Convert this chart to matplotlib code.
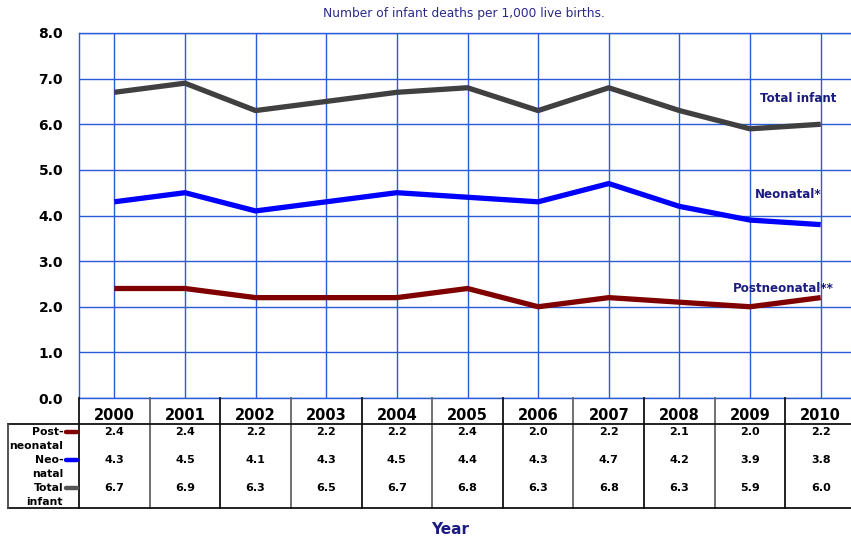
import numpy as np
import matplotlib.pyplot as plt
import matplotlib.transforms as mtransforms
from matplotlib.lines import Line2D

# data
years = [2000, 2001, 2002, 2003, 2004, 2005, 2006, 2007, 2008, 2009, 2010]
postneonatal = [2.4, 2.4, 2.2, 2.2, 2.2, 2.4, 2.0, 2.2, 2.1, 2.0, 2.2]
neonatal = [4.3, 4.5, 4.1, 4.3, 4.5, 4.4, 4.3, 4.7, 4.2, 3.9, 3.8]
total_infant = [6.7, 6.9, 6.3, 6.5, 6.7, 6.8, 6.3, 6.8, 6.3, 5.9, 6.0]
yticks = [0, 1, 2, 3, 4, 5, 6, 7, 8]

W, H = 851, 540
NAVY = '#1c1c80'
GRID = '#2a5bd7'

def fx(x):
    return x / W

def fy(y):
    return 1 - y / H

fig = plt.figure(figsize=(W / 100, H / 100), dpi=100)
ax = fig.add_axes([fx(79), fy(398), fx(856) - fx(79), fy(33) - fy(398)])
ax.set_xlim(years[0] - 0.5, years[-1] + 0.5)
ax.set_ylim(0, 8)

ax.plot(years, total_infant, color='#404040', lw=3.8, solid_capstyle='butt', zorder=3)
ax.plot(years, neonatal, color='#0000ff', lw=3.8, solid_capstyle='butt', zorder=3)
ax.plot(years, postneonatal, color='#800000', lw=3.8, solid_capstyle='butt', zorder=3)

ax.set_xticks(years)
ax.set_yticks(yticks)
ax.set_yticklabels(['%.1f' % v for v in yticks], fontsize=10, fontweight='bold')
ax.tick_params(axis='x', length=0, labelbottom=False)
ax.tick_params(axis='y', length=0, pad=11.5)
ax.grid(True, color=GRID, lw=1)
for s in ax.spines.values():
    s.set_color(GRID)
    s.set_linewidth(1)

ax.text(2009.14, 6.56, 'Total infant', color=NAVY, fontsize=8.6, fontweight='bold', va='center')
ax.text(2009.07, 4.47, 'Neonatal*', color=NAVY, fontsize=8.6, fontweight='bold', va='center')
ax.text(2008.75, 2.39, 'Postneonatal**', color=NAVY, fontsize=8.6, fontweight='bold', va='center')

fig.text(0.545, fy(14), 'Number of infant deaths per 1,000 live births.', color='#2a2a8a',
         fontsize=8.8, ha='center', va='center')
fig.text(fx(450), fy(530), 'Year', color=NAVY, fontsize=11, fontweight='bold',
         ha='center', va='center')

# data table under the plot
tr = mtransforms.blended_transform_factory(ax.transData, fig.transFigure)
top, head, bottom = fy(398), fy(424), fy(508)
for i, yr in enumerate(years):
    fig.text(yr, fy(416), str(yr), transform=tr, fontsize=10.5, fontweight='bold',
             ha='center', va='center')
    c = '#666666' if i % 2 == 0 else '#111111'
    fig.add_artist(Line2D([yr + 0.5, yr + 0.5], [top, bottom], transform=tr,
                          color=c, lw=1.3))
fig.add_artist(Line2D([years[0] - 0.5] * 2, [top, bottom], transform=tr, color='#111111', lw=1.3))

fig.add_artist(Line2D([fx(8), 1.01], [head, head], color='#111111', lw=1.3))
fig.add_artist(Line2D([fx(8), 1.01], [bottom, bottom], color='#111111', lw=1.3))
fig.add_artist(Line2D([fx(8), fx(8)], [head, bottom], color='#444444', lw=1.3))

rows = [('Post-', 'neonatal', postneonatal, '#800000', 432),
        ('Neo-', 'natal', neonatal, '#0000ff', 460),
        ('Total', 'infant', total_infant, '#555555', 488)]
for l1, l2, vals, col, ypx in rows:
    fig.text(fx(64), fy(ypx), l1, fontsize=7.8, fontweight='bold', ha='right', va='center')
    fig.text(fx(63), fy(ypx + 14), l2, fontsize=7.8, fontweight='bold', ha='right', va='center')
    fig.add_artist(Line2D([fx(66), fx(77)], [fy(ypx), fy(ypx)], color=col, lw=3.2,
                          solid_capstyle='round'))
    for yr, v in zip(years, vals):
        fig.text(yr, fy(ypx), '%.1f' % v, transform=tr, fontsize=8, fontweight='bold',
                 ha='center', va='center')

fig.savefig('out.png', dpi=100)
